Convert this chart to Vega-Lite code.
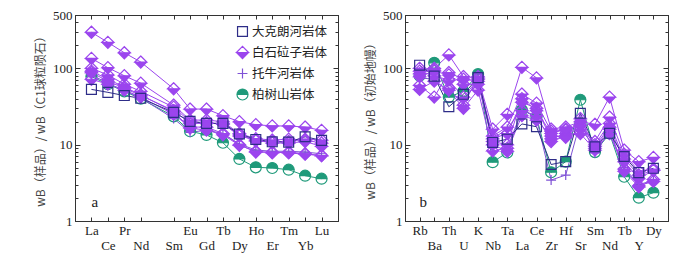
{
 "$schema": "https://vega.github.io/schema/vega-lite/v6.json",
 "background": "white",
 "padding": {"left": 34, "top": 8, "right": 5, "bottom": 5},
 "spacing": 25,
 "config": {
  "view": {"stroke": "#333", "strokeWidth": 1},
  "axis": {"labelFont": "Liberation Serif", "labelFontSize": 13, "labelColor": "#222", "tickColor": "#333", "domainColor": "#333", "grid": false, "titleFont": "Noto Sans CJK SC", "titleFontSize": 12, "titleFontWeight": "normal", "titleColor": "#444", "titlePadding": 5},
  "legend": {"orient": "top-right", "offset": 10, "title": null, "labelFont": "Noto Sans CJK SC", "labelFontSize": 12.5, "labelColor": "#222", "symbolSize": 121, "symbolStrokeWidth": 1.2, "rowPadding": 5, "labelOffset": 3, "padding": 0}
 },
 "datasets": {
  "ree": [
   {"s":"C1","r":"柏树山岩体","e":"La","v":78},{"s":"C1","r":"柏树山岩体","e":"Ce","v":62},{"s":"C1","r":"柏树山岩体","e":"Pr","v":50},{"s":"C1","r":"柏树山岩体","e":"Nd","v":40},{"s":"C1","r":"柏树山岩体","e":"Sm","v":23.5},{"s":"C1","r":"柏树山岩体","e":"Eu","v":15},{"s":"C1","r":"柏树山岩体","e":"Gd","v":13.4},{"s":"C1","r":"柏树山岩体","e":"Tb","v":10.6},{"s":"C1","r":"柏树山岩体","e":"Dy","v":6.5},{"s":"C1","r":"柏树山岩体","e":"Ho","v":5.05},{"s":"C1","r":"柏树山岩体","e":"Er","v":4.95},{"s":"C1","r":"柏树山岩体","e":"Tm","v":4.7},{"s":"C1","r":"柏树山岩体","e":"Yb","v":3.92},{"s":"C1","r":"柏树山岩体","e":"Lu","v":3.58},
   {"s":"P1","r":"托牛河岩体","e":"La","v":82},{"s":"P1","r":"托牛河岩体","e":"Ce","v":64},{"s":"P1","r":"托牛河岩体","e":"Pr","v":51},{"s":"P1","r":"托牛河岩体","e":"Nd","v":41},{"s":"P1","r":"托牛河岩体","e":"Sm","v":22},{"s":"P1","r":"托牛河岩体","e":"Eu","v":14.5},{"s":"P1","r":"托牛河岩体","e":"Gd","v":15.5},{"s":"P1","r":"托牛河岩体","e":"Tb","v":14},{"s":"P1","r":"托牛河岩体","e":"Dy","v":10.2},{"s":"P1","r":"托牛河岩体","e":"Ho","v":8.5},{"s":"P1","r":"托牛河岩体","e":"Er","v":8.2},{"s":"P1","r":"托牛河岩体","e":"Tm","v":8.2},{"s":"P1","r":"托牛河岩体","e":"Yb","v":8},{"s":"P1","r":"托牛河岩体","e":"Lu","v":7.6},
   {"s":"D1","r":"白石砬子岩体","e":"La","v":297},{"s":"D1","r":"白石砬子岩体","e":"Ce","v":219},{"s":"D1","r":"白石砬子岩体","e":"Pr","v":160},{"s":"D1","r":"白石砬子岩体","e":"Nd","v":121},{"s":"D1","r":"白石砬子岩体","e":"Sm","v":54},{"s":"D1","r":"白石砬子岩体","e":"Eu","v":29.3},{"s":"D1","r":"白石砬子岩体","e":"Gd","v":29.3},{"s":"D1","r":"白石砬子岩体","e":"Tb","v":24},{"s":"D1","r":"白石砬子岩体","e":"Dy","v":20},{"s":"D1","r":"白石砬子岩体","e":"Ho","v":18.3},{"s":"D1","r":"白石砬子岩体","e":"Er","v":17.6},{"s":"D1","r":"白石砬子岩体","e":"Tm","v":17.6},{"s":"D1","r":"白石砬子岩体","e":"Yb","v":17},{"s":"D1","r":"白石砬子岩体","e":"Lu","v":15.4},
   {"s":"D2","r":"白石砬子岩体","e":"La","v":135},{"s":"D2","r":"白石砬子岩体","e":"Ce","v":102},{"s":"D2","r":"白石砬子岩体","e":"Pr","v":80},{"s":"D2","r":"白石砬子岩体","e":"Nd","v":64},{"s":"D2","r":"白石砬子岩体","e":"Sm","v":33},{"s":"D2","r":"白石砬子岩体","e":"Eu","v":21},{"s":"D2","r":"白石砬子岩体","e":"Gd","v":21},{"s":"D2","r":"白石砬子岩体","e":"Tb","v":20},{"s":"D2","r":"白石砬子岩体","e":"Dy","v":14},{"s":"D2","r":"白石砬子岩体","e":"Ho","v":12},{"s":"D2","r":"白石砬子岩体","e":"Er","v":11.5},{"s":"D2","r":"白石砬子岩体","e":"Tm","v":11.8},{"s":"D2","r":"白石砬子岩体","e":"Yb","v":11.5},{"s":"D2","r":"白石砬子岩体","e":"Lu","v":10.5},
   {"s":"D3","r":"白石砬子岩体","e":"La","v":100},{"s":"D3","r":"白石砬子岩体","e":"Ce","v":82},{"s":"D3","r":"白石砬子岩体","e":"Pr","v":62},{"s":"D3","r":"白石砬子岩体","e":"Nd","v":50},{"s":"D3","r":"白石砬子岩体","e":"Sm","v":31},{"s":"D3","r":"白石砬子岩体","e":"Eu","v":20},{"s":"D3","r":"白石砬子岩体","e":"Gd","v":19.5},{"s":"D3","r":"白石砬子岩体","e":"Tb","v":18.5},{"s":"D3","r":"白石砬子岩体","e":"Dy","v":13.5},{"s":"D3","r":"白石砬子岩体","e":"Ho","v":11.2},{"s":"D3","r":"白石砬子岩体","e":"Er","v":11},{"s":"D3","r":"白石砬子岩体","e":"Tm","v":11},{"s":"D3","r":"白石砬子岩体","e":"Yb","v":11.8},{"s":"D3","r":"白石砬子岩体","e":"Lu","v":11.5},
   {"s":"D4","r":"白石砬子岩体","e":"La","v":92},{"s":"D4","r":"白石砬子岩体","e":"Ce","v":72},{"s":"D4","r":"白石砬子岩体","e":"Pr","v":57},{"s":"D4","r":"白石砬子岩体","e":"Nd","v":45},{"s":"D4","r":"白石砬子岩体","e":"Sm","v":27},{"s":"D4","r":"白石砬子岩体","e":"Eu","v":16.5},{"s":"D4","r":"白石砬子岩体","e":"Gd","v":15.5},{"s":"D4","r":"白石砬子岩体","e":"Tb","v":13.5},{"s":"D4","r":"白石砬子岩体","e":"Dy","v":9.8},{"s":"D4","r":"白石砬子岩体","e":"Ho","v":8.2},{"s":"D4","r":"白石砬子岩体","e":"Er","v":7.8},{"s":"D4","r":"白石砬子岩体","e":"Tm","v":8},{"s":"D4","r":"白石砬子岩体","e":"Yb","v":7.6},{"s":"D4","r":"白石砬子岩体","e":"Lu","v":7.2},
   {"s":"D5","r":"白石砬子岩体","e":"La","v":72},{"s":"D5","r":"白石砬子岩体","e":"Ce","v":62},{"s":"D5","r":"白石砬子岩体","e":"Pr","v":52},{"s":"D5","r":"白石砬子岩体","e":"Nd","v":42},{"s":"D5","r":"白石砬子岩体","e":"Sm","v":25},{"s":"D5","r":"白石砬子岩体","e":"Eu","v":17},{"s":"D5","r":"白石砬子岩体","e":"Gd","v":17},{"s":"D5","r":"白石砬子岩体","e":"Tb","v":14},{"s":"D5","r":"白石砬子岩体","e":"Dy","v":10},{"s":"D5","r":"白石砬子岩体","e":"Ho","v":8},{"s":"D5","r":"白石砬子岩体","e":"Er","v":8},{"s":"D5","r":"白石砬子岩体","e":"Tm","v":7.8},{"s":"D5","r":"白石砬子岩体","e":"Yb","v":7.5},{"s":"D5","r":"白石砬子岩体","e":"Lu","v":7.2},
   {"s":"D6","r":"白石砬子岩体","e":"La","v":88},{"s":"D6","r":"白石砬子岩体","e":"Ce","v":68},{"s":"D6","r":"白石砬子岩体","e":"Pr","v":55},{"s":"D6","r":"白石砬子岩体","e":"Nd","v":44},{"s":"D6","r":"白石砬子岩体","e":"Sm","v":28},{"s":"D6","r":"白石砬子岩体","e":"Eu","v":19},{"s":"D6","r":"白石砬子岩体","e":"Gd","v":19},{"s":"D6","r":"白石砬子岩体","e":"Tb","v":19},{"s":"D6","r":"白石砬子岩体","e":"Dy","v":13},{"s":"D6","r":"白石砬子岩体","e":"Ho","v":11.5},{"s":"D6","r":"白石砬子岩体","e":"Er","v":10.5},{"s":"D6","r":"白石砬子岩体","e":"Tm","v":10.5},{"s":"D6","r":"白石砬子岩体","e":"Yb","v":11},{"s":"D6","r":"白石砬子岩体","e":"Lu","v":9.5},
   {"s":"S1","r":"大克朗河岩体","e":"La","v":53},{"s":"S1","r":"大克朗河岩体","e":"Ce","v":48.5},{"s":"S1","r":"大克朗河岩体","e":"Pr","v":44},{"s":"S1","r":"大克朗河岩体","e":"Nd","v":40.5},{"s":"S1","r":"大克朗河岩体","e":"Sm","v":26.5},{"s":"S1","r":"大克朗河岩体","e":"Eu","v":20.2},{"s":"S1","r":"大克朗河岩体","e":"Gd","v":19},{"s":"S1","r":"大克朗河岩体","e":"Tb","v":19},{"s":"S1","r":"大克朗河岩体","e":"Dy","v":13.8},{"s":"S1","r":"大克朗河岩体","e":"Ho","v":11.7},{"s":"S1","r":"大克朗河岩体","e":"Er","v":10.9},{"s":"S1","r":"大克朗河岩体","e":"Tm","v":10.8},{"s":"S1","r":"大克朗河岩体","e":"Yb","v":12.7},{"s":"S1","r":"大克朗河岩体","e":"Lu","v":11.4}
  ],
  "pm": [
   {"s":"C1","r":"柏树山岩体","e":"Rb","v":80},{"s":"C1","r":"柏树山岩体","e":"Ba","v":118},{"s":"C1","r":"柏树山岩体","e":"Th","v":42},{"s":"C1","r":"柏树山岩体","e":"U","v":50},{"s":"C1","r":"柏树山岩体","e":"K","v":84},{"s":"C1","r":"柏树山岩体","e":"Nb","v":5.9},{"s":"C1","r":"柏树山岩体","e":"Ta","v":7.9},{"s":"C1","r":"柏树山岩体","e":"La","v":28.5},{"s":"C1","r":"柏树山岩体","e":"Ce","v":23},{"s":"C1","r":"柏树山岩体","e":"Zr","v":4.35},{"s":"C1","r":"柏树山岩体","e":"Hf","v":6},{"s":"C1","r":"柏树山岩体","e":"Sr","v":38.8},{"s":"C1","r":"柏树山岩体","e":"Sm","v":8},{"s":"C1","r":"柏树山岩体","e":"Nd","v":14},{"s":"C1","r":"柏树山岩体","e":"Tb","v":3.8},{"s":"C1","r":"柏树山岩体","e":"Y","v":2.02},{"s":"C1","r":"柏树山岩体","e":"Dy","v":2.35},
   {"s":"P1","r":"托牛河岩体","e":"Rb","v":75},{"s":"P1","r":"托牛河岩体","e":"Ba","v":72},{"s":"P1","r":"托牛河岩体","e":"Th","v":48},{"s":"P1","r":"托牛河岩体","e":"U","v":38},{"s":"P1","r":"托牛河岩体","e":"K","v":68},{"s":"P1","r":"托牛河岩体","e":"Nb","v":12},{"s":"P1","r":"托牛河岩体","e":"Ta","v":16},{"s":"P1","r":"托牛河岩体","e":"La","v":30},{"s":"P1","r":"托牛河岩体","e":"Ce","v":22},{"s":"P1","r":"托牛河岩体","e":"Zr","v":3.44},{"s":"P1","r":"托牛河岩体","e":"Hf","v":4},{"s":"P1","r":"托牛河岩体","e":"Sr","v":20},{"s":"P1","r":"托牛河岩体","e":"Sm","v":7.8},{"s":"P1","r":"托牛河岩体","e":"Nd","v":15},{"s":"P1","r":"托牛河岩体","e":"Tb","v":5},{"s":"P1","r":"托牛河岩体","e":"Y","v":3},{"s":"P1","r":"托牛河岩体","e":"Dy","v":3.4},
   {"s":"D1","r":"白石砬子岩体","e":"Rb","v":85},{"s":"D1","r":"白石砬子岩体","e":"Ba","v":100},{"s":"D1","r":"白石砬子岩体","e":"Th","v":150},{"s":"D1","r":"白石砬子岩体","e":"U","v":78},{"s":"D1","r":"白石砬子岩体","e":"K","v":75},{"s":"D1","r":"白石砬子岩体","e":"Nb","v":16},{"s":"D1","r":"白石砬子岩体","e":"Ta","v":25},{"s":"D1","r":"白石砬子岩体","e":"La","v":103},{"s":"D1","r":"白石砬子岩体","e":"Ce","v":75},{"s":"D1","r":"白石砬子岩体","e":"Zr","v":16},{"s":"D1","r":"白石砬子岩体","e":"Hf","v":17},{"s":"D1","r":"白石砬子岩体","e":"Sr","v":20},{"s":"D1","r":"白石砬子岩体","e":"Sm","v":18.5},{"s":"D1","r":"白石砬子岩体","e":"Nd","v":42},{"s":"D1","r":"白石砬子岩体","e":"Tb","v":8.5},{"s":"D1","r":"白石砬子岩体","e":"Y","v":6},{"s":"D1","r":"白石砬子岩体","e":"Dy","v":6.8},
   {"s":"D2","r":"白石砬子岩体","e":"Rb","v":60},{"s":"D2","r":"白石砬子岩体","e":"Ba","v":42},{"s":"D2","r":"白石砬子岩体","e":"Th","v":88},{"s":"D2","r":"白石砬子岩体","e":"U","v":72},{"s":"D2","r":"白石砬子岩体","e":"K","v":68},{"s":"D2","r":"白石砬子岩体","e":"Nb","v":13},{"s":"D2","r":"白石砬子岩体","e":"Ta","v":17},{"s":"D2","r":"白石砬子岩体","e":"La","v":46},{"s":"D2","r":"白石砬子岩体","e":"Ce","v":35},{"s":"D2","r":"白石砬子岩体","e":"Zr","v":15},{"s":"D2","r":"白石砬子岩体","e":"Hf","v":15.5},{"s":"D2","r":"白石砬子岩体","e":"Sr","v":18},{"s":"D2","r":"白石砬子岩体","e":"Sm","v":11},{"s":"D2","r":"白石砬子岩体","e":"Nd","v":23},{"s":"D2","r":"白石砬子岩体","e":"Tb","v":7.5},{"s":"D2","r":"白石砬子岩体","e":"Y","v":4.5},{"s":"D2","r":"白石砬子岩体","e":"Dy","v":4.8},
   {"s":"D3","r":"白石砬子岩体","e":"Rb","v":78},{"s":"D3","r":"白石砬子岩体","e":"Ba","v":92},{"s":"D3","r":"白石砬子岩体","e":"Th","v":82},{"s":"D3","r":"白石砬子岩体","e":"U","v":62},{"s":"D3","r":"白石砬子岩体","e":"K","v":62},{"s":"D3","r":"白石砬子岩体","e":"Nb","v":12},{"s":"D3","r":"白石砬子岩体","e":"Ta","v":14},{"s":"D3","r":"白石砬子岩体","e":"La","v":36},{"s":"D3","r":"白石砬子岩体","e":"Ce","v":30},{"s":"D3","r":"白石砬子岩体","e":"Zr","v":12},{"s":"D3","r":"白石砬子岩体","e":"Hf","v":14},{"s":"D3","r":"白石砬子岩体","e":"Sr","v":16},{"s":"D3","r":"白石砬子岩体","e":"Sm","v":9.5},{"s":"D3","r":"白石砬子岩体","e":"Nd","v":17},{"s":"D3","r":"白石砬子岩体","e":"Tb","v":6},{"s":"D3","r":"白石砬子岩体","e":"Y","v":3.6},{"s":"D3","r":"白石砬子岩体","e":"Dy","v":4.6},
   {"s":"D4","r":"白石砬子岩体","e":"Rb","v":53},{"s":"D4","r":"白石砬子岩体","e":"Ba","v":68},{"s":"D4","r":"白石砬子岩体","e":"Th","v":52},{"s":"D4","r":"白石砬子岩体","e":"U","v":30},{"s":"D4","r":"白石砬子岩体","e":"K","v":52},{"s":"D4","r":"白石砬子岩体","e":"Nb","v":8.3},{"s":"D4","r":"白石砬子岩体","e":"Ta","v":9},{"s":"D4","r":"白石砬子岩体","e":"La","v":28},{"s":"D4","r":"白石砬子岩体","e":"Ce","v":24},{"s":"D4","r":"白石砬子岩体","e":"Zr","v":11},{"s":"D4","r":"白石砬子岩体","e":"Hf","v":13},{"s":"D4","r":"白石砬子岩体","e":"Sr","v":14},{"s":"D4","r":"白石砬子岩体","e":"Sm","v":8.5},{"s":"D4","r":"白石砬子岩体","e":"Nd","v":14},{"s":"D4","r":"白石砬子岩体","e":"Tb","v":4.8},{"s":"D4","r":"白石砬子岩体","e":"Y","v":2.9},{"s":"D4","r":"白石砬子岩体","e":"Dy","v":3.3},
   {"s":"D5","r":"白石砬子岩体","e":"Rb","v":92},{"s":"D5","r":"白石砬子岩体","e":"Ba","v":80},{"s":"D5","r":"白石砬子岩体","e":"Th","v":70},{"s":"D5","r":"白石砬子岩体","e":"U","v":42},{"s":"D5","r":"白石砬子岩体","e":"K","v":72},{"s":"D5","r":"白石砬子岩体","e":"Nb","v":10},{"s":"D5","r":"白石砬子岩体","e":"Ta","v":8.2},{"s":"D5","r":"白石砬子岩体","e":"La","v":24},{"s":"D5","r":"白石砬子岩体","e":"Ce","v":21},{"s":"D5","r":"白石砬子岩体","e":"Zr","v":13},{"s":"D5","r":"白石砬子岩体","e":"Hf","v":12.5},{"s":"D5","r":"白石砬子岩体","e":"Sr","v":22},{"s":"D5","r":"白石砬子岩体","e":"Sm","v":9},{"s":"D5","r":"白石砬子岩体","e":"Nd","v":16},{"s":"D5","r":"白石砬子岩体","e":"Tb","v":4.5},{"s":"D5","r":"白石砬子岩体","e":"Y","v":2.8},{"s":"D5","r":"白石砬子岩体","e":"Dy","v":3.5},
   {"s":"D6","r":"白石砬子岩体","e":"Rb","v":100},{"s":"D6","r":"白石砬子岩体","e":"Ba","v":95},{"s":"D6","r":"白石砬子岩体","e":"Th","v":55},{"s":"D6","r":"白石砬子岩体","e":"U","v":33},{"s":"D6","r":"白石砬子岩体","e":"K","v":78},{"s":"D6","r":"白石砬子岩体","e":"Nb","v":11},{"s":"D6","r":"白石砬子岩体","e":"Ta","v":10},{"s":"D6","r":"白石砬子岩体","e":"La","v":40},{"s":"D6","r":"白石砬子岩体","e":"Ce","v":28},{"s":"D6","r":"白石砬子岩体","e":"Zr","v":14},{"s":"D6","r":"白石砬子岩体","e":"Hf","v":16},{"s":"D6","r":"白石砬子岩体","e":"Sr","v":18},{"s":"D6","r":"白石砬子岩体","e":"Sm","v":10},{"s":"D6","r":"白石砬子岩体","e":"Nd","v":19},{"s":"D6","r":"白石砬子岩体","e":"Tb","v":6.5},{"s":"D6","r":"白石砬子岩体","e":"Y","v":4},{"s":"D6","r":"白石砬子岩体","e":"Dy","v":4.6},
   {"s":"S1","r":"大克朗河岩体","e":"Rb","v":110},{"s":"S1","r":"大克朗河岩体","e":"Ba","v":79},{"s":"S1","r":"大克朗河岩体","e":"Th","v":31.4},{"s":"S1","r":"大克朗河岩体","e":"U","v":45.7},{"s":"S1","r":"大克朗河岩体","e":"K","v":75.5},{"s":"S1","r":"大克朗河岩体","e":"Nb","v":10.7},{"s":"S1","r":"大克朗河岩体","e":"Ta","v":11.8},{"s":"S1","r":"大克朗河岩体","e":"La","v":18.7},{"s":"S1","r":"大克朗河岩体","e":"Ce","v":17.2},{"s":"S1","r":"大克朗河岩体","e":"Zr","v":5.5},{"s":"S1","r":"大克朗河岩体","e":"Hf","v":6},{"s":"S1","r":"大克朗河岩体","e":"Sr","v":25.8},{"s":"S1","r":"大克朗河岩体","e":"Sm","v":9.4},{"s":"S1","r":"大克朗河岩体","e":"Nd","v":14.1},{"s":"S1","r":"大克朗河岩体","e":"Tb","v":7},{"s":"S1","r":"大克朗河岩体","e":"Y","v":4.3},{"s":"S1","r":"大克朗河岩体","e":"Dy","v":4.9}
  ]
 },
 "resolve": {"scale": {"stroke": "independent", "fill": "independent", "shape": "independent"}},
 "hconcat": [
  {
   "width": 263, "height": 206,
   "data": {"name": "ree"},
   "resolve": {"axis": {"x": "independent", "y": "independent"}},
   "layer": [
    {
     "mark": {"type": "line", "strokeWidth": 1},
     "encoding": {
      "x": {"field": "e", "type": "ordinal", "scale": {"type": "point", "domain": ["La","Ce","Pr","Nd","Pm","Sm","Eu","Gd","Tb","Dy","Ho","Er","Tm","Yb","Lu"], "padding": 1},
            "axis": {"orient": "bottom", "values": ["La","Ce","Pr","Nd","Sm","Eu","Gd","Tb","Dy","Ho","Er","Tm","Yb","Lu"], "labelExpr": "indexof(['Ce','Nd','Sm','Gd','Dy','Er','Yb'], datum.label) >= 0 ? ['', datum.label] : datum.label", "labelAngle": 0, "labelBaseline": "top", "labelLineHeight": 15, "tickSize": -4, "labelPadding": 7, "title": null}},
      "y": {"field": "v", "type": "quantitative", "scale": {"type": "log", "domain": [1, 500], "nice": false},
            "axis": {"orient": "left", "values": [1,2,3,4,5,6,7,8,9,10,20,30,40,50,60,70,80,90,100,200,300,400,500], "labelExpr": "indexof([1,10,100,500], datum.value) >= 0 ? datum.label : ''", "tickSize": {"condition": {"test": "indexof([1,10,100,500], datum.value) >= 0", "value": -5}, "value": -3}, "labelPadding": 8, "title": "wB（样品）/ wB（C1球粒陨石）"}},
      "detail": {"field": "s"},
      "stroke": {"field": "r", "type": "nominal", "scale": {"domain": ["大克朗河岩体","白石砬子岩体","托牛河岩体","柏树山岩体"], "range": ["#2e2d88","#9b45ee","#7f52d6","#1f9a7a"]}},
      "order": {"value": null}
     }
    },
    {
     "mark": {"type": "point", "size": 121, "strokeWidth": 1.2, "opacity": 1},
     "encoding": {
      "x": {"field": "e", "type": "ordinal", "scale": {"type": "point", "domain": ["La","Ce","Pr","Nd","Pm","Sm","Eu","Gd","Tb","Dy","Ho","Er","Tm","Yb","Lu"], "padding": 1},
            "axis": {"orient": "top", "values": ["La","Ce","Pr","Nd","Sm","Eu","Gd","Tb","Dy","Ho","Er","Tm","Yb","Lu"], "labels": false, "tickSize": -4, "title": null}},
      "y": {"field": "v", "type": "quantitative", "scale": {"type": "log", "domain": [1, 500], "nice": false},
            "axis": {"orient": "right", "values": [1,2,3,4,5,6,7,8,9,10,20,30,40,50,60,70,80,90,100,200,300,400,500], "labels": false, "tickSize": {"condition": {"test": "indexof([1,10,100,500], datum.value) >= 0", "value": -5}, "value": -3}, "title": null}},
      "stroke": {"field": "r", "type": "nominal", "scale": {"domain": ["大克朗河岩体","白石砬子岩体","托牛河岩体","柏树山岩体"], "range": ["#2e2d88","#9b45ee","#7f52d6","#1f9a7a"]}},
      "fill": {"field": "r", "type": "nominal", "scale": {"domain": ["大克朗河岩体","白石砬子岩体","托牛河岩体","柏树山岩体"], "range": ["transparent","#9b45ee","transparent","#1f9a7a"]}},
      "shape": {"field": "r", "type": "nominal", "scale": {"domain": ["大克朗河岩体","白石砬子岩体","托牛河岩体","柏树山岩体"], "range": ["M-0.9,-0.9L0.9,-0.9L0.9,0.9L-0.9,0.9Z","M0,-1.1L1.1,0L0,1.1L-1.1,0ZM0,-1.1L-1.1,0L1.1,0Z","M-0.9,0L0.9,0M0,-0.9L0,0.9","M-1,0A1,1,0,1,1,1,0A1,1,0,1,1,-1,0ZM-1,0A1,1,0,0,0,1,0Z"]}}
     }
    },
    {
     "data": {"values": [{"t": "a", "e": "La", "v": 1.8}]},
     "mark": {"type": "text", "align": "left", "font": "Liberation Serif", "fontSize": 15, "color": "#222"},
     "encoding": {
      "x": {"field": "e", "type": "ordinal", "axis": null},
      "y": {"field": "v", "type": "quantitative", "axis": null},
      "text": {"field": "t"}
     }
    }
   ]
  },
  {
   "width": 263, "height": 206,
   "data": {"name": "pm"},
   "resolve": {"axis": {"x": "independent", "y": "independent"}},
   "layer": [
    {
     "mark": {"type": "line", "strokeWidth": 1},
     "encoding": {
      "x": {"field": "e", "type": "ordinal", "scale": {"type": "point", "domain": ["Rb","Ba","Th","U","K","Nb","Ta","La","Ce","Zr","Hf","Sr","Sm","Nd","Tb","Y","Dy"], "padding": 1},
            "axis": {"orient": "bottom", "labelExpr": "indexof(['Ba','U','Nb','La','Zr','Sr','Nd','Y'], datum.label) >= 0 ? ['', datum.label] : datum.label", "labelAngle": 0, "labelBaseline": "top", "labelLineHeight": 15, "tickSize": -4, "labelPadding": 7, "title": null}},
      "y": {"field": "v", "type": "quantitative", "scale": {"type": "log", "domain": [1, 500], "nice": false},
            "axis": {"orient": "left", "values": [1,2,3,4,5,6,7,8,9,10,20,30,40,50,60,70,80,90,100,200,300,400,500], "labelExpr": "indexof([1,10,100,500], datum.value) >= 0 ? datum.label : ''", "tickSize": {"condition": {"test": "indexof([1,10,100,500], datum.value) >= 0", "value": -5}, "value": -3}, "labelPadding": 8, "title": "wB（样品）/ wB（初始地幔）"}},
      "detail": {"field": "s"},
      "stroke": {"field": "r", "type": "nominal", "scale": {"domain": ["大克朗河岩体","白石砬子岩体","托牛河岩体","柏树山岩体"], "range": ["#2e2d88","#9b45ee","#7f52d6","#1f9a7a"]}, "legend": null},
      "order": {"value": null}
     }
    },
    {
     "mark": {"type": "point", "size": 121, "strokeWidth": 1.2, "opacity": 1},
     "encoding": {
      "x": {"field": "e", "type": "ordinal", "scale": {"type": "point", "domain": ["Rb","Ba","Th","U","K","Nb","Ta","La","Ce","Zr","Hf","Sr","Sm","Nd","Tb","Y","Dy"], "padding": 1},
            "axis": {"orient": "top", "labels": false, "tickSize": -4, "title": null}},
      "y": {"field": "v", "type": "quantitative", "scale": {"type": "log", "domain": [1, 500], "nice": false},
            "axis": {"orient": "right", "values": [1,2,3,4,5,6,7,8,9,10,20,30,40,50,60,70,80,90,100,200,300,400,500], "labels": false, "tickSize": {"condition": {"test": "indexof([1,10,100,500], datum.value) >= 0", "value": -5}, "value": -3}, "title": null}},
      "stroke": {"field": "r", "type": "nominal", "scale": {"domain": ["大克朗河岩体","白石砬子岩体","托牛河岩体","柏树山岩体"], "range": ["#2e2d88","#9b45ee","#7f52d6","#1f9a7a"]}, "legend": null},
      "fill": {"field": "r", "type": "nominal", "scale": {"domain": ["大克朗河岩体","白石砬子岩体","托牛河岩体","柏树山岩体"], "range": ["transparent","#9b45ee","transparent","#1f9a7a"]}, "legend": null},
      "shape": {"field": "r", "type": "nominal", "scale": {"domain": ["大克朗河岩体","白石砬子岩体","托牛河岩体","柏树山岩体"], "range": ["M-0.9,-0.9L0.9,-0.9L0.9,0.9L-0.9,0.9Z","M0,-1.1L1.1,0L0,1.1L-1.1,0ZM0,-1.1L-1.1,0L1.1,0Z","M-0.9,0L0.9,0M0,-0.9L0,0.9","M-1,0A1,1,0,1,1,1,0A1,1,0,1,1,-1,0ZM-1,0A1,1,0,0,0,1,0Z"]}, "legend": null}
     }
    },
    {
     "data": {"values": [{"t": "b", "e": "Rb", "v": 1.75}]},
     "mark": {"type": "text", "align": "left", "font": "Liberation Serif", "fontSize": 15, "color": "#222"},
     "encoding": {
      "x": {"field": "e", "type": "ordinal", "axis": null},
      "y": {"field": "v", "type": "quantitative", "axis": null},
      "text": {"field": "t"}
     }
    }
   ]
  }
 ]
}
